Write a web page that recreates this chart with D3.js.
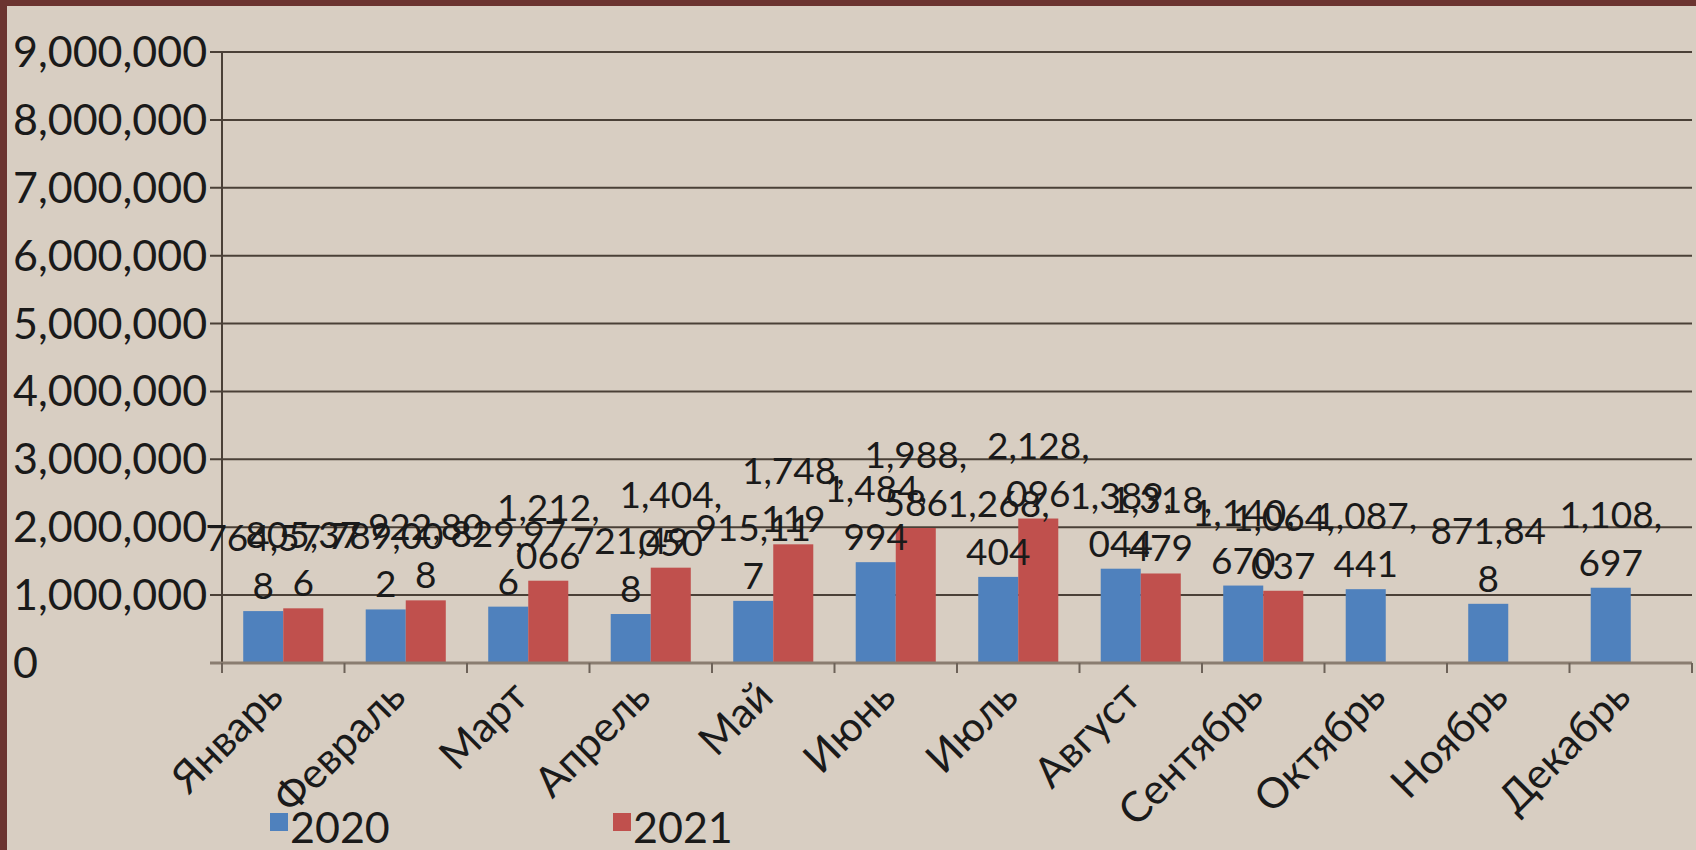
<!DOCTYPE html>
<html>
<head>
<meta charset="utf-8">
<script src="https://cdn.jsdelivr.net/npm/d3@7"></script>
<style>
  body { margin: 0; background: #6b3430; }
  svg { display: block; }
  text { font-family: Lato, "Open Sans", sans-serif; fill: #1a1a1a; }
</style>
</head>
<body>
<svg id="chart"></svg>
<script>
// ---- DATA ----
const months = ["Январь", "Февраль", "Март", "Апрель", "Май", "Июнь",
                "Июль", "Август", "Сентябрь", "Октябрь", "Ноябрь", "Декабрь"];
const seriesNames = ["2020", "2021"];
const values2020 = [764578, 789002, 829976, 721498, 915117, 1484994,
                    1268404, 1389044, 1140670, 1087441, 871848, 1108697];
const values2021 = [805376, 922808, 1212066, 1404050, 1748119, 1988586,
                    2128096, 1318479, 1064037, null, null, null];
const yTicks = [0, 1000000, 2000000, 3000000, 4000000, 5000000, 6000000, 7000000, 8000000, 9000000];
const colors = ["#4f81bd", "#c0504d"];

const W = 1696, H = 850;
const plot = { left: 222, right: 1692, top: 52, bottom: 663 };

const svg = d3.select("#chart").attr("width", W).attr("height", H);

// panel (slide crop: maroon border top/left only)
svg.append("rect").attr("x", 0).attr("y", 0).attr("width", W).attr("height", H).attr("fill", "#6b3430");
svg.append("rect").attr("x", 7).attr("y", 6).attr("width", W - 7).attr("height", H - 6).attr("fill", "#d8cec2");

const x = d3.scaleBand().domain(months).range([plot.left, plot.right]).padding(0);
const x1 = d3.scaleBand().domain(seriesNames).range([0, x.bandwidth()]).paddingInner(0).paddingOuter(0.53);
const y = d3.scaleLinear().domain([0, 9000000]).range([plot.bottom, plot.top]);

// gridlines + y ticks
svg.append("g").selectAll("line").data(yTicks.filter(d => d > 0)).join("line")
  .attr("x1", plot.left - 12).attr("x2", plot.right)
  .attr("y1", d => y(d)).attr("y2", d => y(d))
  .attr("stroke", "#4a4037").attr("stroke-width", 2);

svg.append("g").selectAll("text").data(yTicks).join("text")
  .attr("x", 13).attr("y", d => y(d)).attr("dy", "0.35em")
  .attr("font-size", 43).attr("fill", "#2a2a2a")
  .text(d => d3.format(",")(d));

// y axis line
svg.append("line").attr("x1", plot.left).attr("x2", plot.left)
  .attr("y1", plot.top).attr("y2", plot.bottom + 8)
  .attr("stroke", "#4a4037").attr("stroke-width", 2);

// bars
const rows = months.map((m, i) => ({ month: m, vals: [values2020[i], values2021[i]] }));
const groups = svg.append("g").selectAll("g").data(rows).join("g")
  .attr("transform", d => `translate(${x(d.month)},0)`);

groups.selectAll("rect")
  .data(d => d.vals.map((v, k) => ({ key: seriesNames[k], v: v, k: k })).filter(e => e.v != null))
  .join("rect")
  .attr("x", e => x1(e.key)).attr("width", x1.bandwidth())
  .attr("y", e => y(e.v)).attr("height", e => y(0) - y(e.v))
  .attr("fill", e => colors[e.k]);

// x axis baseline and ticks
svg.append("line").attr("x1", plot.left - 12).attr("x2", plot.right)
  .attr("y1", plot.bottom).attr("y2", plot.bottom)
  .attr("stroke", "#8a7d70").attr("stroke-width", 3);
svg.append("g").selectAll("line").data(months.concat(["end"])).join("line")
  .attr("x1", (d, i) => plot.left + i * x.step()).attr("x2", (d, i) => plot.left + i * x.step())
  .attr("y1", plot.bottom).attr("y2", plot.bottom + 10)
  .attr("stroke", "#6d6258").attr("stroke-width", 2);

// data labels, wrapped like the original (6 chars then rest)
const labelData = [];
rows.forEach(r => r.vals.forEach((v, k) => {
  if (v == null) return;
  labelData.push({ cx: x(r.month) + x1(seriesNames[k]) + x1.bandwidth() / 2, v: v });
}));
const lab = svg.append("g").selectAll("text").data(labelData).join("text")
  .attr("text-anchor", "middle").attr("font-size", 37).attr("fill", "#111");
lab.append("tspan").attr("x", d => d.cx).attr("y", d => y(d.v) - 60)
  .text(d => d3.format(",")(d.v).slice(0, 6));
lab.append("tspan").attr("x", d => d.cx).attr("y", d => y(d.v) - 12)
  .text(d => d3.format(",")(d.v).slice(6));

// category labels rotated
svg.append("g").selectAll("text").data(months).join("text")
  .attr("text-anchor", "end").attr("font-size", 42).attr("fill", "#222")
  .attr("transform", d => `translate(${x(d) + x.bandwidth() / 2 + 2},${plot.bottom + 36}) rotate(-45)`)
  .text(d => d);

// legend
const legendX = [270, 613];
const leg = svg.append("g").selectAll("g").data(seriesNames).join("g")
  .attr("transform", (d, i) => `translate(${legendX[i]},0)`);
leg.append("rect").attr("x", 0).attr("y", 813).attr("width", 18).attr("height", 18)
  .attr("fill", (d, i) => colors[i]);
leg.append("text").attr("x", 20).attr("y", 843).attr("font-size", 43).text(d => d);
</script>
</body>
</html>
